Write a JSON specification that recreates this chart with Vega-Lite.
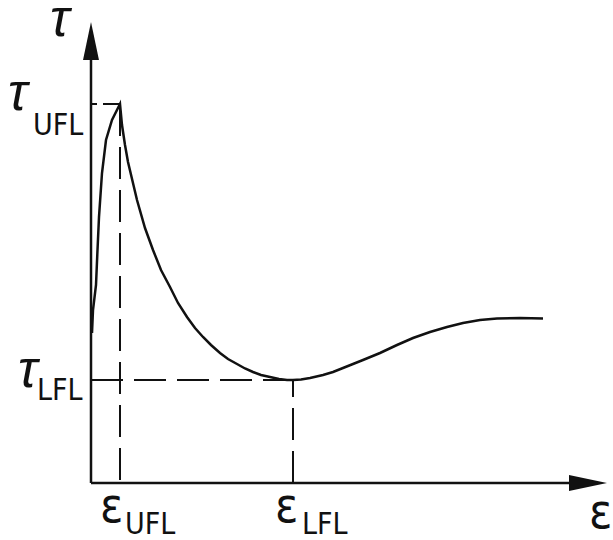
{
  "$schema": "https://vega.github.io/schema/vega-lite/v6.json",
  "width": 613,
  "height": 540,
  "padding": 0,
  "autosize": {"type": "none"},
  "background": "white",
  "config": {"view": {"stroke": null}},
  "datasets": {
    "curve": [
      {"x": 0.01, "y": 1.50}, {"x": 0.02, "y": 1.73}, {"x": 0.05, "y": 1.98}, {"x": 0.065, "y": 2.33},
      {"x": 0.08, "y": 2.66}, {"x": 0.11, "y": 3.10}, {"x": 0.15, "y": 3.43}, {"x": 0.21, "y": 3.63},
      {"x": 0.29, "y": 3.79}, {"x": 0.31, "y": 3.58}, {"x": 0.34, "y": 3.38}, {"x": 0.37, "y": 3.21}, {"x": 0.46, "y": 2.83},
      {"x": 0.54, "y": 2.55}, {"x": 0.62, "y": 2.33}, {"x": 0.70, "y": 2.13}, {"x": 0.79, "y": 1.96}, {"x": 0.87, "y": 1.80}, {"x": 0.96, "y": 1.66},
      {"x": 1.04, "y": 1.55}, {"x": 1.12, "y": 1.46}, {"x": 1.20, "y": 1.38}, {"x": 1.29, "y": 1.30}, {"x": 1.37, "y": 1.24}, {"x": 1.46, "y": 1.19}, {"x": 1.54, "y": 1.145}, {"x": 1.62, "y": 1.11},
      {"x": 1.70, "y": 1.08}, {"x": 1.79, "y": 1.06}, {"x": 1.88, "y": 1.04}, {"x": 1.96, "y": 1.03}, {"x": 2.02, "y": 1.03}, {"x": 2.10, "y": 1.035}, {"x": 2.19, "y": 1.05},
      {"x": 2.32, "y": 1.08}, {"x": 2.42, "y": 1.11}, {"x": 2.52, "y": 1.15}, {"x": 2.62, "y": 1.19}, {"x": 2.72, "y": 1.23}, {"x": 2.89, "y": 1.30},
      {"x": 3.06, "y": 1.38}, {"x": 3.22, "y": 1.45}, {"x": 3.39, "y": 1.51}, {"x": 3.56, "y": 1.56},
      {"x": 3.72, "y": 1.60}, {"x": 3.89, "y": 1.63}, {"x": 4.06, "y": 1.645}, {"x": 4.29, "y": 1.65},
      {"x": 4.52, "y": 1.645}
    ],
    "guides": [
      {"x": 0.29, "y": 3.79, "x2": 0.29, "y2": 0},
      {"x": 0, "y": 1.03, "x2": 2.02, "y2": 1.03},
      {"x": 2.02, "y": 0, "x2": 2.02, "y2": 1.03}
    ],
    "shortguide": [
      {"x": 0.29, "y": 3.79, "x2": 0, "y2": 3.79}
    ],
    "axes": [
      {"x": 0, "y": 0, "x2": 0, "y2": 4.4},
      {"x": 0, "y": 0, "x2": 4.9, "y2": 0}
    ],
    "arrows": [
      {"x": 0, "y": 4.42, "dir": "up"},
      {"x": 4.97, "y": 0, "dir": "right"}
    ],
    "labels": [
      {"x": -0.41, "y": 4.47, "text": "τ", "kind": "tau"},
      {"x": -0.83, "y": 3.73, "text": "τ", "kind": "tau"},
      {"x": -0.58, "y": 3.48, "text": "UFL", "kind": "sub"},
      {"x": -0.73, "y": 0.96, "text": "τ", "kind": "tau"},
      {"x": -0.54, "y": 0.83, "text": "LFL", "kind": "sub"},
      {"x": 0.09, "y": -0.39, "text": "ε", "kind": "eps"},
      {"x": 0.34, "y": -0.51, "text": "UFL", "kind": "sub"},
      {"x": 1.84, "y": -0.39, "text": "ε", "kind": "eps"},
      {"x": 2.11, "y": -0.51, "text": "LFL", "kind": "sub"},
      {"x": 4.98, "y": -0.45, "text": "ε", "kind": "eps"}
    ]
  },
  "encoding": {
    "x": {"field": "x", "type": "quantitative", "scale": {"domain": [-0.91, 5.22], "nice": false, "zero": false}, "axis": null},
    "y": {"field": "y", "type": "quantitative", "scale": {"domain": [-0.57, 4.83], "nice": false, "zero": false}, "axis": null}
  },
  "layer": [
    {
      "data": {"name": "guides"},
      "mark": {"type": "rule", "stroke": "#111", "strokeWidth": 2, "strokeDash": [32, 11]},
      "encoding": {"x2": {"field": "x2"}, "y2": {"field": "y2"}}
    },
    {
      "data": {"name": "shortguide"},
      "mark": {"type": "rule", "stroke": "#111", "strokeWidth": 2, "strokeDash": [17, 6]},
      "encoding": {"x2": {"field": "x2"}, "y2": {"field": "y2"}}
    },
    {
      "data": {"name": "axes"},
      "mark": {"type": "rule", "stroke": "#111", "strokeWidth": 2.5},
      "encoding": {"x2": {"field": "x2"}, "y2": {"field": "y2"}}
    },
    {
      "data": {"name": "arrows"},
      "mark": {"type": "point", "filled": true, "color": "#111", "opacity": 1, "size": 1444},
      "encoding": {
        "shape": {"field": "dir", "type": "nominal", "legend": null,
          "scale": {"domain": ["up", "right"], "range": ["M0,-1L0.42,1L-0.42,1Z", "M1,0L-1,-0.42L-1,0.42Z"]}}
      }
    },
    {
      "data": {"name": "curve"},
      "mark": {"type": "line", "stroke": "#111", "strokeWidth": 2.5, "interpolate": "linear"},
      "encoding": {}
    },
    {
      "data": {"name": "labels"},
      "transform": [{"filter": "datum.kind == 'tau'"}],
      "mark": {"type": "text", "align": "left", "baseline": "alphabetic", "font": "Liberation Sans", "fontSize": 52, "fontStyle": "italic", "color": "#111"},
      "encoding": {"text": {"field": "text"}}
    },
    {
      "data": {"name": "labels"},
      "transform": [{"filter": "datum.kind == 'eps'"}],
      "mark": {"type": "text", "align": "left", "baseline": "alphabetic", "font": "'DejaVu Sans Condensed', 'Liberation Sans', sans-serif", "fontSize": 48, "color": "#111"},
      "encoding": {"text": {"field": "text"}}
    },
    {
      "data": {"name": "labels"},
      "transform": [{"filter": "datum.kind == 'sub'"}],
      "mark": {"type": "text", "align": "left", "baseline": "alphabetic", "font": "'DejaVu Sans Condensed', 'Liberation Sans', sans-serif", "fontSize": 30, "color": "#111"},
      "encoding": {"text": {"field": "text"}}
    }
  ]
}
